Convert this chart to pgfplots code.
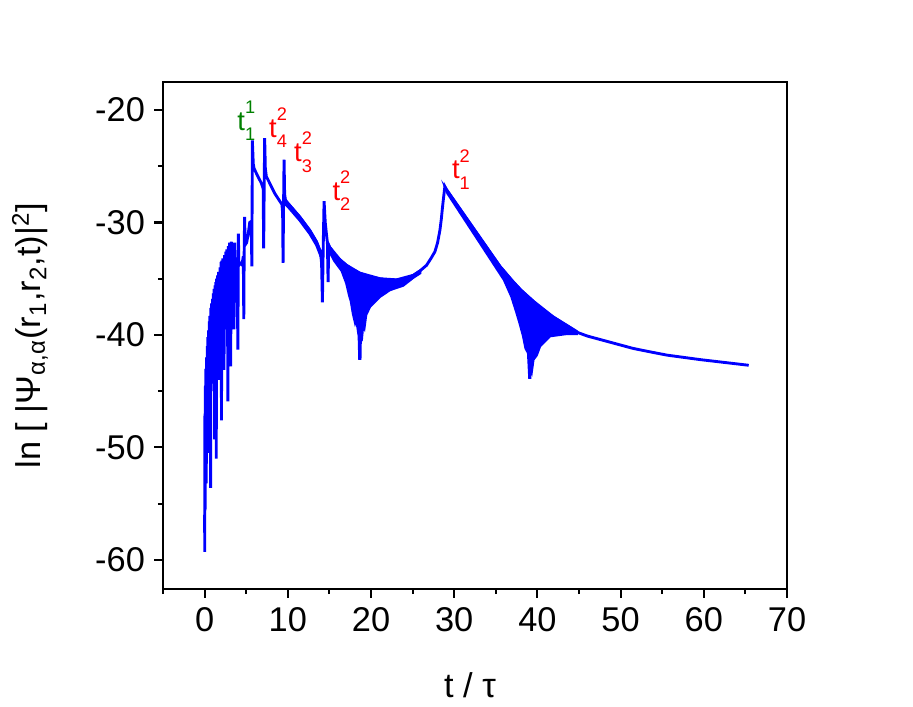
\documentclass[border=0pt]{standalone}
\usepackage{fontspec}
\setmainfont{Liberation Sans}
\usepackage{pgfplots}
\pgfplotsset{compat=1.18}

\definecolor{curve}{RGB}{0,0,255}
\definecolor{lblred}{RGB}{255,0,0}
\definecolor{lblgreen}{RGB}{0,128,0}

\newcommand{\tlab}[2]{t\rlap{\raisebox{0.62em}{\fontsize{7}{8}\selectfont #1}}\raisebox{-0.38em}{\fontsize{7}{8}\selectfont #2}}

\begin{document}
\begin{tikzpicture}
  \begin{axis}[
    scale only axis,
    width=8.424cm, height=6.845cm,
    xmin=-5, xmax=70, ymin=-62.6, ymax=-17.5,
    xtick={0,10,...,70}, ytick={-60,-50,...,-20},
    minor xtick={-5,5,...,65}, minor ytick={-55,-45,...,-25},
    tick align=outside, tick pos=left,
    major tick length=0.12cm, minor tick length=0.07cm,
    axis line style={line width=0.8pt},
    tick style={black, line width=0.8pt},
    /pgf/number format/assume math mode=true,
    ticklabel style={font=\fontsize{13.2}{15}\selectfont},
    label style={font=\fontsize{13.2}{15}\selectfont},
    xlabel={t / τ},
    ylabel={ln [ |Ψ\textsubscript{α,α}(r\textsubscript{1},r\textsubscript{2},t)|\textsuperscript{2}]},
    xlabel style={at={(axis description cs:0.492,-0.189)}, anchor=center},
    ylabel style={at={(axis description cs:-0.213,0.5)}, anchor=center},
  ]
    % thin band 10-14
    \addplot[draw=curve, fill=curve, line width=1pt] coordinates {
      (9.75,-28.1) (10.03,-28.3) (11.43,-29.5) (12.64,-30.7) (13.44,-31.7) (13.92,-32.6)
      (13.92,-32.9) (13.44,-32.0) (12.64,-31.0) (11.43,-29.8) (10.03,-28.6) (9.75,-28.4)
    } -- cycle;
    % oscillation band 15-26
    \addplot[draw=curve, fill=curve, line width=1pt] coordinates {
      (15.04,-32.2) (15.6,-32.8) (16.25,-33.3) (17.05,-33.8) (17.8,-34.2) (18.65,-34.5)
      (19.8,-34.8) (21.06,-35.0) (22.0,-35.1) (23.07,-35.1) (24.1,-35.0) (25.07,-34.7) (25.9,-34.3)
      (25.9,-34.5) (25.07,-34.9) (23.86,-35.6) (22.26,-36.0) (21.06,-36.6) (19.86,-37.5)
      (19.4,-38.2) (19.2,-39.3) (19.05,-39.0) (18.9,-40.2) (18.75,-40.0) (18.70,-42.1)
      (18.62,-42.1) (18.55,-40.1) (18.45,-39.6) (18.25,-38.6) (18.1,-38.9) (17.85,-38.1)
      (17.6,-37.0) (17.4,-36.5) (17.05,-35.4) (16.5,-34.3) (15.6,-33.4) (15.04,-32.6)
    } -- cycle;
    % oscillation band 29-45
    \addplot[draw=curve, fill=curve, line width=1pt] coordinates {
      (29.0,-27.0) (35.5,-33.9) (37.0,-35.2) (38.0,-36.0) (39.5,-37.0) (40.7,-37.8) (41.9,-38.4)
      (43.2,-39.0) (44.5,-39.6) (44.7,-39.7)
      (44.7,-39.9) (43.5,-39.9) (41.5,-40.1) (40.3,-41.0) (39.9,-41.8) (39.5,-42.2)
      (39.35,-43.0) (39.2,-42.4) (39.12,-43.8) (39.05,-43.8) (38.9,-41.6) (38.6,-41.2)
      (38.3,-40.1) (37.9,-39.0) (37.5,-38.0) (37.2,-37.3) (36.9,-36.6) (36.0,-35.1)
      (33.0,-31.7) (29.2,-27.4)
    } -- cycle;
    % main curve
    \addplot[curve, line width=1.1pt] coordinates {
      (0.00,-56.0) (0.02,-59.3) (0.04,-47.0) (0.07,-55.5) (0.10,-44.5) (0.13,-52.0)
      (0.16,-43.0) (0.20,-53.2) (0.24,-42.0) (0.28,-49.0) (0.32,-41.0) (0.36,-47.5)
      (0.40,-40.2) (0.44,-50.5) (0.48,-39.6) (0.52,-46.0) (0.56,-38.8) (0.60,-44.5)
      (0.64,-38.3) (0.68,-47.0) (0.72,-53.6) (0.76,-37.6) (0.80,-45.0) (0.85,-37.2)
      (0.90,-43.0) (0.95,-36.8) (1.00,-42.5) (1.05,-36.3) (1.10,-44.0) (1.15,-35.9)
      (1.20,-49.3) (1.25,-35.6) (1.30,-41.5) (1.35,-35.3) (1.40,-51.0) (1.45,-35.0)
      (1.50,-40.0) (1.56,-34.7) (1.62,-42.0) (1.68,-34.4) (1.74,-39.0) (1.80,-44.0)
      (1.86,-34.0) (1.92,-38.5) (1.98,-33.5) (2.03,-47.6) (2.08,-33.4) (2.14,-38.0)
      (2.20,-33.2) (2.27,-40.0) (2.33,-43.1) (2.40,-32.9) (2.47,-37.0) (2.54,-32.6)
      (2.61,-39.5) (2.68,-32.4) (2.75,-36.5) (2.80,-45.9) (2.86,-32.1) (2.93,-38.0)
      (3.00,-31.8) (3.06,-35.5) (3.13,-42.8) (3.21,-31.7) (3.30,-35.0) (3.40,-33.2)
      (3.47,-38.0) (3.53,-39.5) (3.61,-31.8) (3.70,-34.5) (3.80,-33.4) (3.90,-33.6)
      (4.00,-41.3) (4.06,-31.0) (4.12,-33.8) (4.25,-33.6) (4.40,-33.7) (4.55,-33.5)
      (4.65,-33.0) (4.71,-38.6) (4.76,-32.2) (4.81,-29.5) (4.87,-32.0) (5.05,-31.8)
      (5.25,-31.0) (5.42,-30.0) (5.60,-29.9) (5.68,-33.9) (5.74,-22.7) (5.85,-24.8)
      (5.95,-25.2) (6.40,-25.9) (6.82,-26.5) (7.04,-27.0) (7.10,-32.3) (7.16,-27.0)
      (7.22,-22.5) (7.30,-25.2) (7.42,-25.9) (8.42,-27.4) (9.30,-28.4) (9.38,-29.2)
      (9.43,-33.6) (9.49,-28.5) (9.55,-24.4) (9.62,-27.5) (9.72,-28.0) (10.03,-28.3)
      (11.43,-29.5) (12.64,-30.7) (13.44,-31.7) (13.92,-32.6) (14.06,-33.6) (14.16,-37.1)
      (14.26,-32.0) (14.36,-28.1) (14.50,-30.0) (14.64,-31.0) (14.76,-31.8) (14.84,-35.3)
      (14.92,-32.0) (15.04,-32.2) (16.25,-33.3) (17.05,-33.8) (18.65,-34.5) (21.06,-35.0)
      (23.07,-35.1) (25.07,-34.7) (25.90,-34.3) (26.68,-33.8) (27.20,-33.2) (27.68,-32.6)
      (28.00,-31.8) (28.28,-30.7) (28.45,-29.7) (28.60,-28.6) (28.75,-27.6) (28.88,-26.8)
      (29.10,-27.1) (35.50,-33.9) (37.00,-35.2) (38.00,-36.0) (39.50,-37.0)
      (41.90,-38.4) (44.50,-39.6) (44.90,-39.8) (46.00,-40.1) (47.50,-40.4) (49.50,-40.8)
      (51.50,-41.2) (53.50,-41.5) (55.60,-41.8) (57.60,-42.0) (59.60,-42.2) (62.50,-42.45)
      (65.40,-42.7)
    };
    \node[lblgreen, anchor=base west, inner sep=0, font=\fontsize{10.5}{12}\selectfont]
      at (axis cs:3.89,-21.78) {\tlab{1}{1}};
    \node[lblred, anchor=base west, inner sep=0, font=\fontsize{10.5}{12}\selectfont]
      at (axis cs:7.70,-22.43) {\tlab{2}{4}};
    \node[lblred, anchor=base west, inner sep=0, font=\fontsize{10.5}{12}\selectfont]
      at (axis cs:10.71,-24.59) {\tlab{2}{3}};
    \node[lblred, anchor=base west, inner sep=0, font=\fontsize{10.5}{12}\selectfont]
      at (axis cs:15.32,-28.0) {\tlab{2}{2}};
    \node[lblred, anchor=base west, inner sep=0, font=\fontsize{10.5}{12}\selectfont]
      at (axis cs:29.69,-26.13) {\tlab{2}{1}};
  \end{axis}
  \pgfresetboundingbox
  \path ([xshift=-2.2005cm,yshift=-1.5795cm]current axis.south west)
    rectangle ([xshift=10.125cm,yshift=7.9515cm]current axis.south west);
\end{tikzpicture}
\end{document}
